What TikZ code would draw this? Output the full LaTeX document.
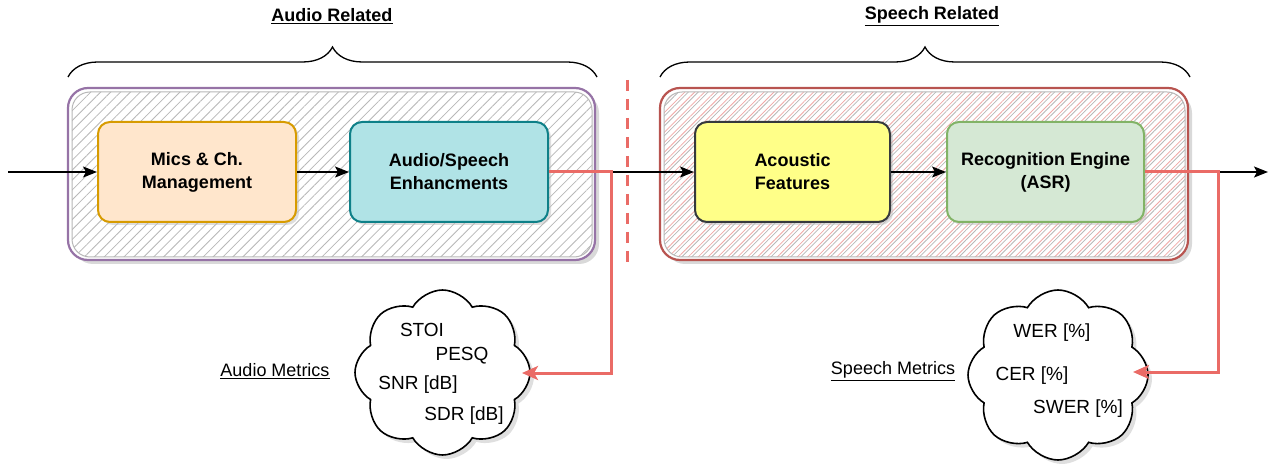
\documentclass[tikz,border=0pt]{standalone}
\usepackage{fontspec}
\setmainfont{Liberation Sans}
\usetikzlibrary{patterns.meta,shapes.symbols,shadows,decorations.pathreplacing,arrows.meta}
\definecolor{purpleS}{HTML}{9673A6}
\definecolor{redS}{HTML}{B85450}
\definecolor{redL}{HTML}{EA6B66}
\definecolor{hatchR}{HTML}{F0A8A6}
\definecolor{hatchG}{HTML}{B8B8B8}
\definecolor{orF}{HTML}{FFE6CC}\definecolor{orS}{HTML}{D79B00}
\definecolor{cyF}{HTML}{B0E3E6}\definecolor{cyS}{HTML}{0E8088}
\definecolor{yeF}{HTML}{FFFF88}\definecolor{yeS}{HTML}{36393D}
\definecolor{grF}{HTML}{D5E8D4}\definecolor{grS}{HTML}{82B366}
\begin{document}
\begin{tikzpicture}[x=1pt,y=-1pt,
  stagebox/.style={rounded corners=12pt, line width=2pt, minimum height=100pt,
    align=center, font=\fontsize{18}{23}\selectfont\bfseries,
    drop shadow={shadow xshift=3pt,shadow yshift=-3pt,fill=black!25}},
  flow/.style={-{Stealth[length=14pt,width=11pt,inset=3pt]}, line width=1.2pt},
  metricflow/.style={-{Stealth[length=16pt,width=14pt,inset=4pt]}, line width=3pt, draw=redL},
  cloudnode/.style={cloud, cloud puffs=8, cloud puff arc=120, draw, line width=1.6pt, fill=white, inner sep=0pt,
    drop shadow={shadow xshift=4pt,shadow yshift=-4pt,fill=black!25}},
  cloudtext/.style={font=\fontsize{19}{22}\selectfont},
  grouptitle/.style={font=\fontsize{18}{22}\selectfont\bfseries},
  metriclabel/.style={font=\fontsize{18}{22}\selectfont},
  bracedeco/.style={decorate, decoration={brace, amplitude=30pt}, line width=1.3pt}
]
\useasboundingbox (0,0) rectangle (1274,470);

% group containers
\fill[black!15, rounded corners=20pt] (73,93) rectangle (599,264);
\fill[white, rounded corners=20pt] (68,88) rectangle (595,260);
\fill[pattern={Lines[angle=45,distance=7pt,line width=0.8pt]}, pattern color=hatchG, rounded corners=18pt] (72,92) rectangle (592,257);
\draw[hatchG, line width=1pt, rounded corners=18pt] (72,92) rectangle (592,257);
\draw[purpleS, line width=2.2pt, rounded corners=20pt] (68,88) rectangle (595,260);

\fill[black!15, rounded corners=20pt] (665,93) rectangle (1192,264);
\fill[white, rounded corners=20pt] (660,88) rectangle (1188,260);
\fill[pattern={Lines[angle=45,distance=7pt,line width=0.8pt]}, pattern color=hatchR, rounded corners=18pt] (664,92) rectangle (1185,257);
\fill[pattern={Lines[angle=45,distance=7pt,line width=0.8pt,xshift=3.5pt]}, pattern color=hatchG, rounded corners=18pt] (664,92) rectangle (1185,257);
\draw[hatchG, line width=1pt, rounded corners=18pt] (664,92) rectangle (1185,257);
\draw[redS, line width=2.2pt, rounded corners=20pt] (660,88) rectangle (1188,260);

% braces and titles
\coordinate (bAl) at (68,77); \coordinate (bAr) at (597,77);
\coordinate (bSl) at (660,77); \coordinate (bSr) at (1190,77);
\draw[bracedeco] (bAl) -- (bAr);
\draw[bracedeco] (bSl) -- (bSr);
\node[grouptitle] (tA) at (332,16) {\underline{Audio Related}};
\node[grouptitle] (tS) at (932,16) {\underline{Speech Related}};

% separator
\coordinate (sepT) at (627,80); \coordinate (sepB) at (627,270);
\draw[redL, line width=3pt, dash pattern=on 11pt off 8pt] (sepT) -- (sepB);

% stages
\node[stagebox, fill=orF, draw=orS, minimum width=198pt] (mics) at (197,172) {Mics \& Ch.\\Management};
\node[stagebox, fill=cyF, draw=cyS, minimum width=198pt] (enh) at (449,172) {Audio/Speech\\Enhancments};
\node[stagebox, fill=yeF, draw=yeS, minimum width=195pt] (feat) at (792.5,172) {Acoustic\\Features};
\node[stagebox, fill=grF, draw=grS, minimum width=197pt] (asr) at (1045.5,172) {Recognition Engine\\(ASR)};

\coordinate (in) at (8,172);
\coordinate (out) at (1268,172);
\draw[flow] (in) -- (mics);
\draw[flow] (mics) -- (enh);
\draw[flow] (enh) -- (feat);
\draw[flow] (feat) -- (asr);
\draw[flow] (asr) -- (out);

% clouds
\node[cloudnode, minimum width=175pt, minimum height=165pt] (cA) at (442.5,372.5) {};
\node[cloudnode, minimum width=180pt, minimum height=170pt] (cS) at (1058,375) {};

\node[cloudtext] (stoi) at (422,330) {STOI};
\node[cloudtext] (pesq) at (462,356) {PESQ};
\node[cloudtext] (snr) at (418,385) {SNR [dB]};
\node[cloudtext] (sdr) at (464,416) {SDR [dB]};
\node[cloudtext] (wer) at (1052,333) {WER [\%]};
\node[cloudtext] (cer) at (1032,376) {CER [\%]};
\node[cloudtext] (swer) at (1078,409) {SWER [\%]};

\node[metriclabel] (lA) at (275,371) {\underline{Audio Metrics}};
\node[metriclabel] (lS) at (893,371) {\underline{Speech Metrics}};

% metric connectors
\coordinate (rA) at (611,373);
\coordinate (tipA) at (522,373);
\coordinate (rS) at (1218,372);
\coordinate (tipS) at (1133,372);
\draw[metricflow] (enh.east) -| (rA) -- (tipA);
\draw[metricflow] (asr.east) -| (rS) -- (tipS);
\end{tikzpicture}
\end{document}
